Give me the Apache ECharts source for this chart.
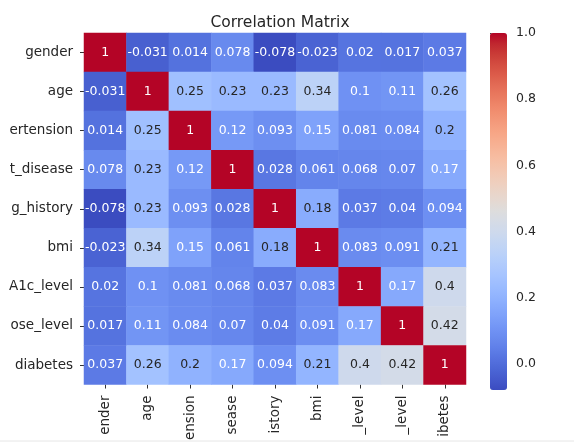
<!DOCTYPE html>
<html>
<head>
<meta charset="utf-8">
<script src="https://cdn.jsdelivr.net/npm/echarts@6/dist/echarts.min.js"></script>
<style>
html,body{margin:0;padding:0;background:#fff;}
#chart{width:574px;height:443px;}
</style>
</head>
<body>
<div id="chart"></div>
<script>
// Tick labels (as visible, truncated in the reference)
const xLabels = ['ender', 'age', 'ension', 'sease', 'istory', 'bmi', '_level', '_level', 'ibetes'];
const yLabels = ['gender', 'age', 'ertension', 't_disease', 'g_history', 'bmi', 'A1c_level', 'ose_level', 'diabetes'];

// Correlation rows
const gender          = [1, -0.031, 0.014, 0.078, -0.078, -0.023, 0.02, 0.017, 0.037];
const age             = [-0.031, 1, 0.25, 0.23, 0.23, 0.34, 0.1, 0.11, 0.26];
const hypertension    = [0.014, 0.25, 1, 0.12, 0.093, 0.15, 0.081, 0.084, 0.2];
const heartDisease    = [0.078, 0.23, 0.12, 1, 0.028, 0.061, 0.068, 0.07, 0.17];
const smokingHistory  = [-0.078, 0.23, 0.093, 0.028, 1, 0.18, 0.037, 0.04, 0.094];
const bmi             = [-0.023, 0.34, 0.15, 0.061, 0.18, 1, 0.083, 0.091, 0.21];
const hba1cLevel      = [0.02, 0.1, 0.081, 0.068, 0.037, 0.083, 1, 0.17, 0.4];
const glucoseLevel    = [0.017, 0.11, 0.084, 0.07, 0.04, 0.091, 0.17, 1, 0.42];
const diabetes        = [0.037, 0.26, 0.2, 0.17, 0.094, 0.21, 0.4, 0.42, 1];

const colorbarTicks = [0, 0.2, 0.4, 0.6, 0.8, 1.0];
const vMin = -0.078, vMax = 1;

const rows = [gender, age, hypertension, heartDisease, smokingHistory, bmi, hba1cLevel, glucoseLevel, diabetes];

// matplotlib coolwarm
const coolwarm = [
 [59,76,192],[68,90,204],[77,104,215],[87,117,225],[98,130,234],[108,142,241],[119,154,247],[130,165,251],
 [141,176,254],[152,185,255],[163,194,255],[174,201,253],[184,208,249],[194,213,244],[204,217,238],[213,219,230],
 [221,221,221],[229,216,209],[236,211,197],[241,204,184],[245,196,172],[247,187,159],[247,177,147],[247,166,134],
 [244,154,123],[241,141,111],[236,127,99],[229,112,89],[222,96,77],[213,80,66],[203,62,56],[192,40,47],[180,4,38]
];
const cwHex = coolwarm.map(c => 'rgb(' + c.join(',') + ')');

function cmap(v) {
  let t = (v - vMin) / (vMax - vMin);
  t = Math.max(0, Math.min(1, t));
  const p = t * (coolwarm.length - 1);
  const i = Math.min(Math.floor(p), coolwarm.length - 2);
  const f = p - i;
  return coolwarm[i].map((c, k) => c + (coolwarm[i + 1][k] - c) * f);
}
function lum(rgb) {
  const l = rgb.map(c => { c /= 255; return c <= 0.03928 ? c / 12.92 : Math.pow((c + 0.055) / 1.055, 2.4); });
  return 0.2126 * l[0] + 0.7152 * l[1] + 0.0722 * l[2];
}

const data = [];
rows.forEach((row, i) => {
  row.forEach((v, j) => {
    data.push({
      value: [j, i, v],
      label: { color: lum(cmap(v)) > 0.408 ? '#262626' : '#ffffff' }
    });
  });
});

const FONT = 'DejaVu Sans';
const TXT = '#262626';

const chart = echarts.init(document.getElementById('chart'), null, { renderer: 'canvas' });
chart.setOption({
  backgroundColor: '#ffffff',
  animation: false,
  title: {
    text: 'Correlation Matrix',
    left: 275, top: 10, textAlign: 'center',
    textStyle: { fontFamily: FONT, fontSize: 15.5, fontWeight: 'normal', color: TXT }
  },
  graphic: [
    { type: 'line', shape: { x1: 0, y1: 441, x2: 574, y2: 441 }, style: { stroke: '#e6e6e6', lineWidth: 1 }, z: 100 }
  ],
  grid: [
    { left: 84, top: 33, width: 382, height: 357 },
    { left: 490, top: 33, width: 17, height: 357 }
  ],
  xAxis: [
    {
      type: 'category', gridIndex: 0, data: xLabels, position: 'bottom',
      axisLine: { show: false },
      axisTick: { show: true, alignWithLabel: true, length: 4, lineStyle: { color: '#333' } },
      axisLabel: { interval: 0, rotate: 90, margin: 11, fontFamily: FONT, fontSize: 13.5, color: TXT },
      splitLine: { show: false }, splitArea: { show: false }
    },
    {
      type: 'value', gridIndex: 1, show: false, min: 0, max: 1
    }
  ],
  yAxis: [
    {
      type: 'category', gridIndex: 0, data: yLabels, inverse: true,
      axisLine: { show: false },
      axisTick: { show: true, alignWithLabel: true, length: 4, lineStyle: { color: '#333' } },
      axisLabel: { interval: 0, margin: 11, fontFamily: FONT, fontSize: 13.5, color: TXT },
      splitLine: { show: false }, splitArea: { show: false }
    },
    {
      type: 'value', gridIndex: 1, min: vMin, max: vMax, position: 'right',
      axisLine: { show: false },
      splitLine: { show: false },
      axisTick: { show: true, length: 4, customValues: colorbarTicks, lineStyle: { color: '#333' } },
      axisLabel: {
        customValues: colorbarTicks, margin: 9,
        fontFamily: FONT, fontSize: 12.5, color: TXT,
        formatter: v => Number(v).toFixed(1)
      }
    }
  ],
  visualMap: {
    type: 'continuous',
    min: vMin, max: vMax,
    dimension: 2,
    seriesIndex: 0,
    calculable: false,
    hoverLink: false,
    left: 490, top: 33,
    padding: 0,
    itemWidth: 17, itemHeight: 357,
    text: null,
    showLabel: false,
    inRange: { color: cwHex }
  },
  series: [
    {
      type: 'heatmap',
      xAxisIndex: 0, yAxisIndex: 0,
      data: data,
      label: {
        show: true,
        fontFamily: FONT, fontSize: 12.5,
        formatter: p => String(p.value[2])
      },
      itemStyle: { borderWidth: 0 },
      emphasis: { disabled: true }
    }
  ]
});
</script>
</body>
</html>
